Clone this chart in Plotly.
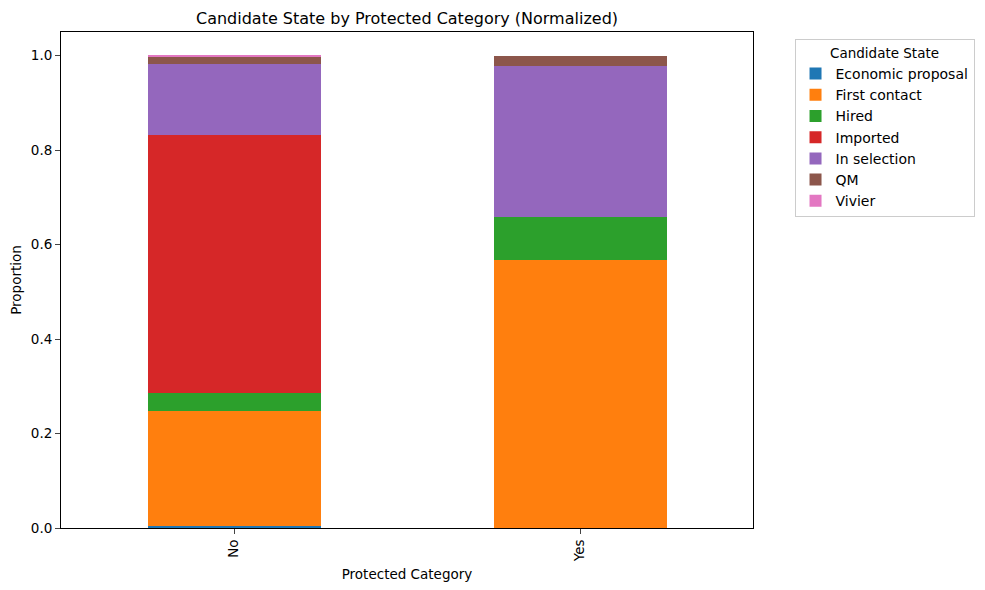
import plotly.graph_objects as go

categories = ["No", "Yes"]
states = ["Economic proposal", "First contact", "Hired", "Imported", "In selection", "QM", "Vivier"]
economic_proposal = [0.005, 0.0]
first_contact = [0.243, 0.568]
hired = [0.037, 0.091]
imported = [0.547, 0.0]
in_selection = [0.151, 0.318]
qm = [0.015, 0.023]
vivier = [0.002, 0.0]
colors = ["#1f77b4", "#ff7f0e", "#2ca02c", "#d62728", "#9467bd", "#8c564b", "#e377c2"]

series = [economic_proposal, first_contact, hired, imported, in_selection, qm, vivier]

fig = go.Figure()
for name, vals, c in zip(states, series, colors):
    fig.add_trace(go.Bar(x=categories, y=vals, name=name, marker=dict(color=c, line=dict(width=0)), width=0.5))

font = "DejaVu Sans"
fig.update_layout(
    barmode="stack",
    width=985, height=590,
    margin=dict(l=61, r=232, t=32, b=62, autoexpand=False),
    plot_bgcolor="white", paper_bgcolor="white",
    font=dict(family=font, size=13, color="black"),
    title=dict(text="Candidate State by Protected Category (Normalized)", x=(61 + 753) / 2 / 985, xanchor="center",
               y=1 - 18 / 590, yanchor="middle", font=dict(size=16)),
    legend=dict(title=dict(text="Candidate State", side="top center", font=dict(size=13.5)),
                x=1.06, xanchor="left", y=0.985, yanchor="top",
                bordercolor="#cccccc", borderwidth=1, font=dict(size=14),
                traceorder="normal", tracegroupgap=0),
    bargap=0.5,
)
fig.update_xaxes(range=[-0.5, 1.5], showline=True, linecolor="black", linewidth=1, mirror=True,
                 ticks="outside", ticklen=5, tickangle=-90, showgrid=False, automargin=False,
                 tickfont=dict(size=13.5),
                 title=dict(text="Protected Category", font=dict(size=13.5), standoff=8))
fig.update_yaxes(range=[0, 1.05], showline=True, linecolor="black", linewidth=1, mirror=True,
                 ticks="outside", ticklen=5, tickvals=[0, 0.2, 0.4, 0.6, 0.8, 1.0], tickformat=".1f",
                 showgrid=False, zeroline=False, automargin=False, tickfont=dict(size=13.5),
                 title=dict(text="Proportion", font=dict(size=13.5), standoff=6))

fig.write_html("out.html")
